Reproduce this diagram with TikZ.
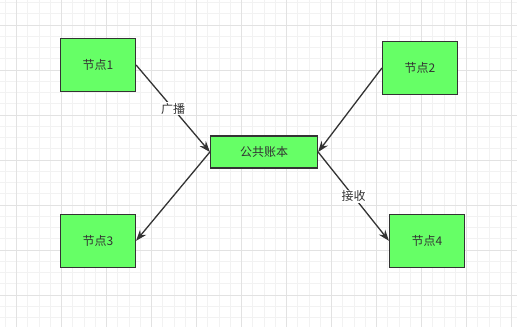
\documentclass[tikz,border=0pt]{standalone}
\usepackage{fontspec}
\newfontfamily\cjk{Noto Sans CJK SC}
\usetikzlibrary{arrows.meta}
\definecolor{nodegreen}{HTML}{66FF66}
\definecolor{edgegray}{HTML}{333333}
\definecolor{gridminor}{HTML}{F2F2F2}
\definecolor{gridmajor}{HTML}{E2E2E2}
\begin{document}
\begin{tikzpicture}[x=1pt,y=-1pt,
  peer/.style={draw=edgegray, line width=1.2pt, fill=nodegreen, minimum width=75pt, minimum height=53pt, inner sep=0pt, font=\cjk\fontsize{12}{14}\selectfont, text=edgegray},
  hub/.style={peer, minimum width=107pt, minimum height=32pt},
  link/.style={draw=edgegray, line width=1.3pt, -{Stealth[length=11pt,width=8pt]}},
  tag/.style={fill=white, inner sep=1pt, font=\cjk\fontsize{12}{14}\selectfont, text=edgegray}]
\useasboundingbox (0,0) rectangle (517,327);
\fill[white] (0,0) rectangle (517,327);
% background grid
\foreach \i in {0,...,46} \draw[gridminor, line width=1pt] ({5.45+11.25*\i},0) -- ++(0,327);
\foreach \i in {0,...,28} \draw[gridminor, line width=1pt] (0,{2.5+11.25*\i}) -- ++(517,0);
\foreach \i in {0,...,11} \draw[gridmajor, line width=1pt] ({16.7+45*\i},0) -- ++(0,327);
\foreach \i in {0,...,6} \draw[gridmajor, line width=1pt] (0,{25+45*\i}) -- ++(517,0);
% nodes
\node[peer] (n1) at (98,65) {节点1};
\node[peer] (n2) at (420,68) {节点2};
\node[hub] (ledger) at (264,152) {公共账本};
\node[peer] (n3) at (98,240.8) {节点3};
\node[peer] (n4) at (427,240.8) {节点4};
% links
\draw[link] (n1.east) -- (ledger.west) node[tag, midway] {广播};
\draw[link] (n2.west) -- (ledger.east);
\draw[link] (ledger.west) -- (n3.east);
\draw[link] (ledger.east) -- (n4.west) node[tag, midway] {接收};
\end{tikzpicture}
\end{document}
